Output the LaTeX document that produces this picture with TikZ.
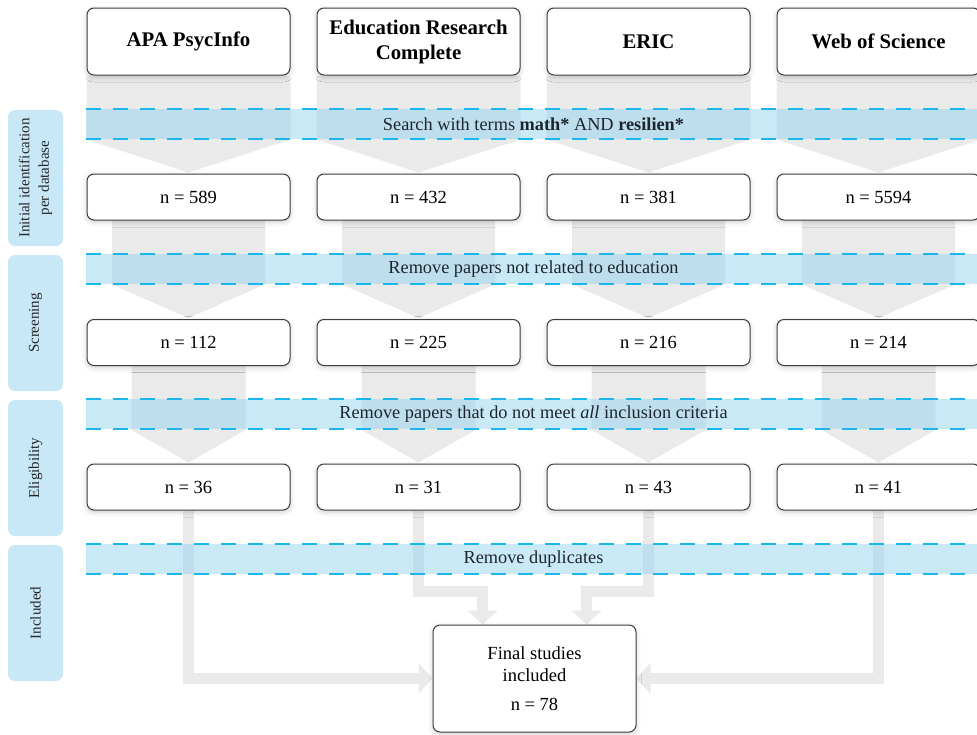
\documentclass[tikz,border=0pt]{standalone}
\usepackage{fontspec}
\setmainfont{Liberation Serif}
\usetikzlibrary{calc,arrows.meta,shadows.blur}
\definecolor{arrowgray}{RGB}{234,234,234}
\definecolor{bandfill}{RGB}{150,212,240}
\definecolor{bandline}{RGB}{27,182,236}
\definecolor{stagefill}{RGB}{200,232,248}
\definecolor{boxline}{RGB}{60,60,60}
\definecolor{bandtext}{RGB}{28,38,46}
\pgfdeclarelayer{back}
\pgfdeclarelayer{mid}
\pgfsetlayers{back,mid,main}
\begin{document}
\begin{tikzpicture}[x=1pt,y=-1pt,
  dbbox/.style={draw=boxline, line width=1pt, fill=white, rounded corners=7pt,
    minimum width=203pt, minimum height=67pt, align=center, inner sep=3pt,
    font=\fontsize{20.8}{25}\selectfont\bfseries,
    blur shadow={shadow xshift=0pt, shadow yshift=-2pt, shadow blur radius=5pt, shadow opacity=20}},
  nbox/.style={dbbox, minimum height=46pt, font=\fontsize{18.5}{22}\selectfont},
  fbox/.style={dbbox, minimum height=107pt, font=\fontsize{18.5}{22}\selectfont},
  stage/.style={fill=stagefill, rounded corners=7pt, rotate=90, minimum width=136pt,
    minimum height=55pt, align=center, inner sep=2pt, text=black!85,
    font=\fontsize{15}{19.5}\selectfont},
  bandtxt/.style={text=bandtext, font=\fontsize{18.3}{22}\selectfont, inner sep=0pt},
  bandrule/.style={draw=bandline, line width=2pt, dash pattern=on 15pt off 12pt},
  widearrow/.style={fill=arrowgray},
  conn/.style={draw=arrowgray, line width=11pt, line join=miter,
    -{Triangle[width=30pt,length=14pt]}},
]
\useasboundingbox (0,0) rectangle (977,734);

% stage labels
\node[stage] (st1) at (35.5,178) {Initial identification\\per database};
\node[stage] (st2) at (35.5,323) {Screening};
\node[stage] (st3) at (35.5,468) {Eligibility};
\node[stage] (st4) at (35.5,613) {Included};

% database boxes
\node[dbbox] (t1) at (188.5,41.5) {APA PsycInfo};
\node[dbbox] (t2) at (418.5,41.5) {Education Research\\Complete};
\node[dbbox] (t3) at (648.5,41.5) {ERIC};
\node[dbbox] (t4) at (878.5,41.5) {Web of Science};

\node[nbox] (n1) at (188.5,197) {n = 589};
\node[nbox] (n2) at (418.5,197) {n = 432};
\node[nbox] (n3) at (648.5,197) {n = 381};
\node[nbox] (n4) at (878.5,197) {n = 5594};

\node[nbox] (s1) at (188.5,342.5) {n = 112};
\node[nbox] (s2) at (418.5,342.5) {n = 225};
\node[nbox] (s3) at (648.5,342.5) {n = 216};
\node[nbox] (s4) at (878.5,342.5) {n = 214};

\node[nbox] (e1) at (188.5,487) {n = 36};
\node[nbox] (e2) at (418.5,487) {n = 31};
\node[nbox] (e3) at (648.5,487) {n = 43};
\node[nbox] (e4) at (878.5,487) {n = 41};

\node[fbox] (f) at (534.5,678.5) {Final studies\\included\\[7pt]n = 78};

% band texts
\node[bandtxt] (bt1) at (533.5,124) {Search with terms \textbf{math*} AND \textbf{resilien*}};
\node[bandtxt] (bt2) at (533.5,269) {Remove papers not related to education};
\node[bandtxt] (bt3) at (533.5,414) {Remove papers that do not meet \textit{all} inclusion criteria};
\node[bandtxt] (bt4) at (533.5,559) {Remove duplicates};

% bands
\begin{pgfonlayer}{mid}
\foreach \y in {109,254,399,544}{
  \fill[bandfill, opacity=0.5] (86,\y) rectangle (977,\y+30);
  \draw[bandrule] (86,\y) -- (977,\y);
  \draw[bandrule] (86,\y+30) -- (977,\y+30);
}
\end{pgfonlayer}

% wide gray arrows
\begin{pgfonlayer}{back}
\foreach \i in {1,2,3,4}{
  \fill[widearrow] (t\i.south west) -- (t\i.south east) -- ++(0,64)
     -- ($(n\i.north)+(0,-1)$) -- ($(t\i.south west)+(0,64)$) -- cycle;
  \fill[widearrow] ($(n\i.south)+(-76.5,0)$) -- ++(153,0) -- ++(0,64)
     -- ($(s\i.north)+(0,-1)$) -- ($(n\i.south)+(-76.5,64)$) -- cycle;
  \fill[widearrow] ($(s\i.south)+(-57,0)$) -- ++(114,0) -- ++(0,64)
     -- ($(e\i.north)+(0,-1)$) -- ($(s\i.south)+(-57,64)$) -- cycle;
}
\draw[conn] (e1.south) |- (f.west);
\draw[conn] (e4.south) |- (f.east);
\draw[conn] (e2.south) -- ++(0,81) -| ($(f.north)+(-52,0)$);
\draw[conn] (e3.south) -- ++(0,81) -| ($(f.north)+(52,0)$);
\end{pgfonlayer}
\end{tikzpicture}
\end{document}
